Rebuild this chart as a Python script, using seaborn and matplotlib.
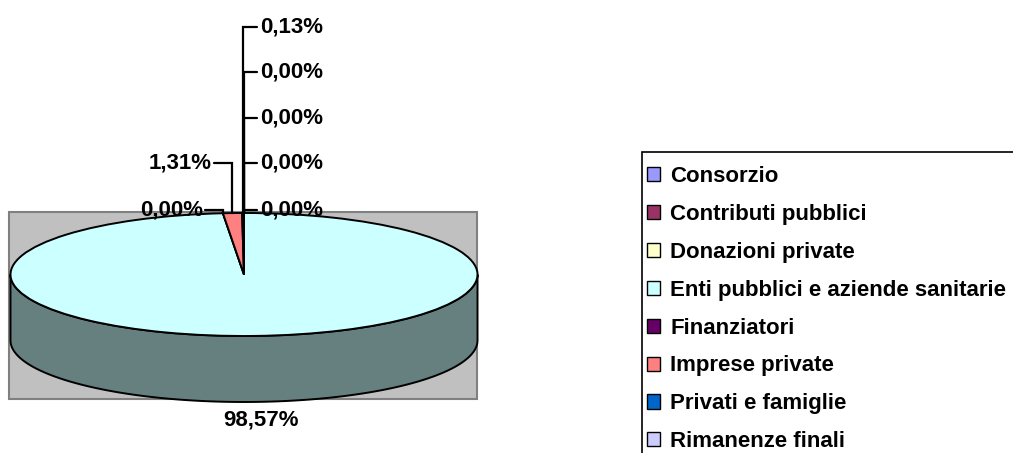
import matplotlib
matplotlib.use("Agg")
import matplotlib.pyplot as plt
import seaborn as sns
import numpy as np
from matplotlib.patches import Rectangle, Polygon, Patch
from matplotlib.colors import to_rgb

# data
categories = ["Consorzio", "Contributi pubblici", "Donazioni private",
              "Enti pubblici e aziende sanitarie", "Finanziatori",
              "Imprese private", "Privati e famiglie", "Rimanenze finali"]
shares = [0.00, 0.00, 0.00, 98.57, 0.00, 1.31, 0.13, 0.00]
palette_hex = ["#9999FF", "#993366", "#FFFFCC", "#CCFFFF",
               "#660066", "#FF8080", "#0066CC", "#CCCCFF"]

sns.set_style("white")
plt.rcParams['font.family'] = ['Liberation Sans', 'DejaVu Sans']
plt.rcParams['text.color'] = 'black'
colors = sns.color_palette(palette_hex)

W, H = 1013, 453
# pie geometry in pixels (top face centre, radii, thickness)
cx, cy, ra, rb, depth = 244, 274.5, 233.5, 61.5, 66
fs = 16

fig = plt.figure(figsize=(W / 100, H / 100), dpi=100)

# background (plot area)
bg = fig.add_axes([0, 0, 1, 1])
bg.set_xlim(0, W)
bg.set_ylim(H, 0)
bg.axis('off')
bg.add_patch(Rectangle((9, 212), 468, 187, facecolor='#C0C0C0',
                       edgecolor='#808080', linewidth=1.5))

# pie axes: unit circle stretched to the ellipse
pie_ax = fig.add_axes([(cx - ra) / W, 1 - (cy + rb + depth) / H,
                       2 * ra / W, (2 * rb + depth) / H])
wedges, _ = pie_ax.pie(shares, colors=colors, startangle=90, counterclock=False,
                       radius=1, center=(0, 0),
                       wedgeprops=dict(edgecolor='black', linewidth=1.4))
pie_ax.set_aspect('auto')
pie_ax.set_xlim(-1, 1)
pie_ax.set_ylim(-1 - depth / rb, 1)
pie_ax.axis('off')

# front side of each slice
d = depth / rb
for w, c in zip(wedges, colors):
    t1, t2 = w.theta1, w.theta2
    for shift in (-360, 0, 360):
        lo, hi = max(t1, 180 + shift), min(t2, 360 + shift)
        if hi > lo:
            t = np.radians(np.linspace(lo, hi, 100))
            top = np.column_stack([np.cos(t), np.sin(t)])
            bot = top[::-1] - [0, d]
            side = np.array(to_rgb(c)) * 0.5
            pie_ax.add_patch(Polygon(np.vstack([top, bot]), closed=True,
                                     facecolor=side, edgecolor='black',
                                     linewidth=1.4, zorder=0.5, clip_on=False))

# labels and leader lines
ov = fig.add_axes([0, 0, 1, 1])
ov.set_xlim(0, W)
ov.set_ylim(H, 0)
ov.axis('off')
ov.patch.set_visible(False)
bg.set_zorder(0)
pie_ax.set_zorder(1)
ov.set_zorder(2)

label_pos = {0: (260, 210, 'left'), 1: (260, 163, 'left'), 2: (260, 118, 'left'),
             7: (260, 72, 'left'), 6: (260, 27, 'left'), 3: (261, 420, 'center'),
             4: (203, 210, 'right'), 5: (212, 163, 'right')}

for i, w in enumerate(wedges):
    lx, ly, ha = label_pos[i]
    txt = f"{shares[i]:.2f}%".replace('.', ',')
    ov.text(lx, ly, txt, ha=ha, va='center', fontsize=fs, fontweight='bold')
    if ha == 'center':
        continue
    m = np.radians((w.theta1 + w.theta2) / 2)
    axp, ayp = cx + ra * np.cos(m), cy - rb * np.sin(m)
    ex = lx - 3 if ha == 'left' else lx + 2
    ov.plot([ex, axp, axp], [ly, ly, ayp], color='black', lw=1.6,
            solid_joinstyle='miter')

# legend box (runs off the right and bottom edges like the original)
ov.add_patch(Rectangle((642, 152), 400, 330, facecolor='white',
                       edgecolor='black', linewidth=1.2, zorder=0.5))
handles = [Patch(facecolor=c, edgecolor='black', linewidth=1) for c in colors]
leg = fig.legend(handles, categories, loc='upper left',
                 bbox_to_anchor=(647 / W, 1 - 166 / H), frameon=False,
                 borderaxespad=0, borderpad=0, handlelength=0.6,
                 handleheight=0.6, handletextpad=0.45, labelspacing=0.76,
                 prop=dict(weight='bold', size=fs))
for t in leg.get_texts():
    t.set_color('black')

fig.savefig("out.png", dpi=100)
